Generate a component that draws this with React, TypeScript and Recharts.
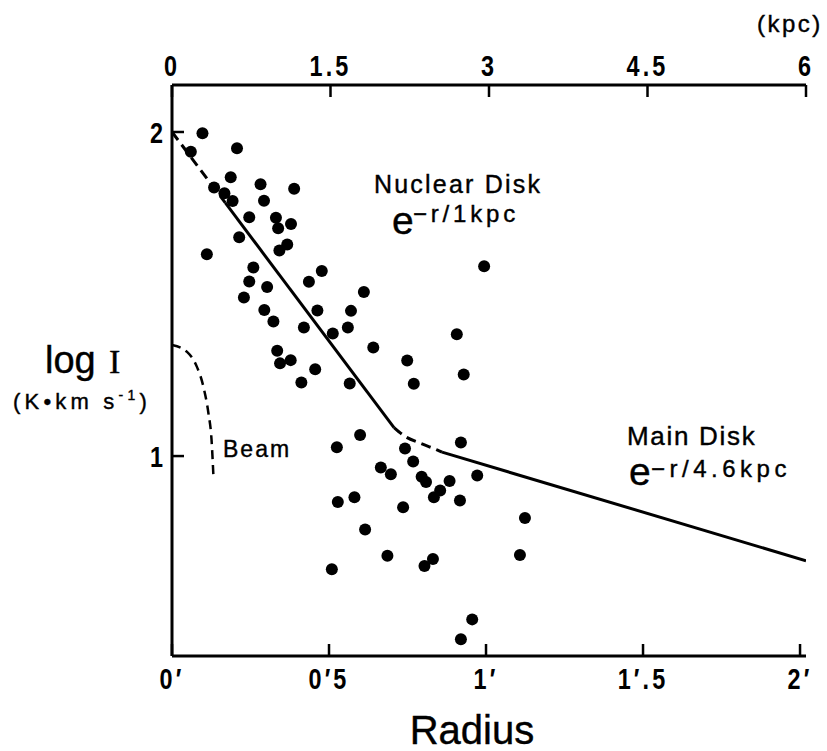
import { ComposedChart, XAxis, YAxis, Scatter, Line, Customized } from "recharts";

// radial CO profile: observed points (radius in arcmin, log I)
const radius = [
  0.097, 0.06, 0.207, 0.187, 0.134, 0.167, 0.193, 0.282, 0.293, 0.389,
  0.246, 0.331, 0.338, 0.379, 0.214, 0.111, 0.367, 0.342, 0.259, 0.246,
  0.303, 0.436, 0.477, 0.229, 0.294, 0.611, 0.463, 0.323, 0.57, 0.42,
  0.512, 0.56, 0.641, 0.335, 0.344, 0.378, 0.456, 0.412, 0.566, 0.994,
  0.907, 0.749, 0.929, 0.77, 0.599, 0.525, 0.742, 0.92, 0.768, 0.665,
  0.697, 0.795, 0.809, 0.884, 0.972, 0.854, 0.834, 0.917, 0.528, 0.581,
  0.736, 1.124, 0.615, 0.686, 0.831, 0.804, 1.108, 0.509, 0.956, 0.92,
];
const logI = [
  1.996, 1.939, 1.95, 1.86, 1.829, 1.811, 1.787, 1.839, 1.788, 1.825,
  1.737, 1.735, 1.703, 1.716, 1.675, 1.623, 1.653, 1.634, 1.582, 1.539,
  1.522, 1.538, 1.571, 1.489, 1.451, 1.506, 1.449, 1.415, 1.448, 1.397,
  1.378, 1.397, 1.335, 1.325, 1.286, 1.296, 1.268, 1.227, 1.224, 1.586,
  1.376, 1.295, 1.252, 1.223, 1.065, 1.027, 1.023, 1.042, 0.983, 0.965,
  0.944, 0.936, 0.92, 0.923, 0.94, 0.894, 0.873, 0.863, 0.858, 0.873,
  0.842, 0.809, 0.773, 0.692, 0.682, 0.661, 0.695, 0.651, 0.496, 0.435,
];

// nuclear disk fit e^{-r/1kpc}
const nuclearDashX = [0, 0.17];
const nuclearDashY = [2, 1.781];
const nuclearX = [0.17, 0.707];
const nuclearY = [1.781, 1.088];
// hand-drawn join between the two disks
const joinX = [0.707, 0.745, 0.79, 0.844, 0.86];
const joinY = [1.088, 1.059, 1.04, 1.019, 1.012];
// main disk fit e^{-r/4.6kpc}
const mainX = [0.86, 2.019];
const mainY = [1.012, 0.677];
// beam profile
const beamX = [0, 0.047, 0.079, 0.1, 0.116, 0.126, 0.132];
const beamY = [1.343, 1.322, 1.276, 1.214, 1.132, 1.049, 0.936];

const arcminTicks = [0, 0.5, 1, 1.5, 2];
const arcminLabels = ["0′", "0′5", "1′", "1′.5", "2′"];
const kpcTicks = [0, 1.5, 3, 4.5, 6];
const kpcLabels = ["0", "1.5", "3", "4.5", "6"];
const logTicks = [1, 2];
const logLabels = ["1", "2"];

const X_MAX = 2.019;
const KPC_MAX = 6;
const Y_MIN = 0.383;
const Y_MAX = 2.145;

const zip = (xs: number[], ys: number[]) => xs.map((x, i) => ({ x, y: ys[i] }));

const points = zip(radius, logI);
const nuclearDash = zip(nuclearDashX, nuclearDashY);
const nuclear = zip(nuclearX, nuclearY);
const join = zip(joinX, joinY);
const mainDisk = zip(mainX, mainY);
const beam = zip(beamX, beamY);
// keeps the top / right axes alive, draws nothing
const frameAnchor = zip([0, KPC_MAX], [Y_MIN, Y_MAX]);

const SANS = "'Liberation Sans', Arial, sans-serif";
const SERIF = "'Liberation Serif', serif";

// condensed bold numerals for the axes
function makeTick(ticks: number[], labels: string[], side: "top" | "bottom" | "left") {
  return (props: any) => {
    const { x, y, payload } = props;
    const label = labels[ticks.indexOf(payload.value)] ?? "";
    const dy = side === "bottom" ? "0.72em" : side === "left" ? "0.36em" : "0";
    const anchor = side === "left" ? "end" : "middle";
    return (
      <text
        transform={`translate(${x},${y}) scale(0.78,1)`}
        dy={dy}
        textAnchor={anchor}
        fontSize={30}
        fontWeight="bold"
        fontFamily={SANS}
        letterSpacing={side === "left" ? 0 : 4}
        fill="#000"
      >
        {label}
      </text>
    );
  };
}

const bottomTick = makeTick(arcminTicks, arcminLabels, "bottom");
const topTick = makeTick(kpcTicks, kpcLabels, "top");
const leftTick = makeTick(logTicks, logLabels, "left");

function Annotations() {
  return (
    <g fill="#000" stroke="#000" strokeWidth={0.4} fontFamily={SANS}>
      <text x={757} y={32} fontSize={24} letterSpacing={2.5}>(kpc)</text>

      <text x={374} y={193} fontSize={25} letterSpacing={2.2}>Nuclear Disk</text>
      <text x={392} y={234} fontSize={39}>e</text>
      <text x={413} y={222} fontSize={24} letterSpacing={3.8}>−r/1kpc</text>

      <text x={627} y={445} fontSize={26} letterSpacing={1.7}>Main Disk</text>
      <text x={629} y={485} fontSize={39}>e</text>
      <text x={651} y={477} fontSize={24} letterSpacing={4.5}>−r/4.6kpc</text>

      <text x={223} y={457} fontSize={23} letterSpacing={2}>Beam</text>

      <text x={45} y={373} fontSize={38}>log</text>
      <text x={109} y={373} fontSize={34} fontFamily={SERIF}>I</text>
      <text x={13} y={409} fontSize={22} letterSpacing={4.2}>
        (K•km s<tspan fontSize={14} dy={-9}>-1</tspan>
        <tspan dy={9}>)</tspan>
      </text>

      <text x={472} y={744} fontSize={40} textAnchor="middle">Radius</text>
    </g>
  );
}

const dot = (p: any) => <circle cx={p.cx} cy={p.cy} r={6} fill="#000" />;

const axisLine = { stroke: "#000", strokeWidth: 3 };
const tickLine = { stroke: "#000", strokeWidth: 2.5 };

export default function App() {
  return (
    <div style={{ position: "absolute", left: 0, top: 0, background: "#fff" }}>
      <ComposedChart
        width={827}
        height={751}
        margin={{ top: 55, right: 21, bottom: 55, left: 132 }}
      >
        <XAxis
          dataKey="x"
          type="number"
          domain={[0, X_MAX]}
          allowDataOverflow
          ticks={arcminTicks}
          height={40}
          axisLine={axisLine}
          tickLine={tickLine}
          tickSize={-12}
          tickMargin={23}
          tick={bottomTick}
          interval={0}
        />
        <XAxis
          xAxisId="top"
          dataKey="x"
          orientation="top"
          type="number"
          domain={[0, KPC_MAX]}
          allowDataOverflow
          ticks={kpcTicks}
          height={30}
          axisLine={axisLine}
          tickLine={tickLine}
          tickSize={-12}
          tickMargin={21}
          tick={topTick}
          interval={0}
        />
        <YAxis
          type="number"
          domain={[Y_MIN, Y_MAX]}
          allowDataOverflow
          ticks={logTicks}
          width={40}
          axisLine={axisLine}
          tickLine={tickLine}
          tickSize={-12}
          tickMargin={21}
          tick={leftTick}
          interval={0}
        />
        <YAxis
          yAxisId="right"
          orientation="right"
          type="number"
          domain={[Y_MIN, Y_MAX]}
          allowDataOverflow
          width={0}
          tick={false}
          tickLine={false}
          axisLine={axisLine}
        />

        <Line xAxisId="top" yAxisId="right" data={frameAnchor} dataKey="y" stroke="none"
          dot={false} activeDot={false} isAnimationActive={false} />

        <Line data={nuclearDash} dataKey="y" type="linear" stroke="#000" strokeWidth={3}
          strokeDasharray="10 6" dot={false} isAnimationActive={false} />
        <Line data={nuclear} dataKey="y" type="linear" stroke="#000" strokeWidth={3}
          dot={false} isAnimationActive={false} />
        <Line data={join} dataKey="y" type="monotone" stroke="#000" strokeWidth={3}
          strokeDasharray="10 6" dot={false} isAnimationActive={false} />
        <Line data={mainDisk} dataKey="y" type="linear" stroke="#000" strokeWidth={3}
          dot={false} isAnimationActive={false} />
        <Line data={beam} dataKey="y" type="monotone" stroke="#000" strokeWidth={2.5}
          strokeDasharray="9 6" dot={false} isAnimationActive={false} />

        <Scatter data={points} dataKey="y" shape={dot} isAnimationActive={false} />

        <Customized component={Annotations} />
      </ComposedChart>
    </div>
  );
}
